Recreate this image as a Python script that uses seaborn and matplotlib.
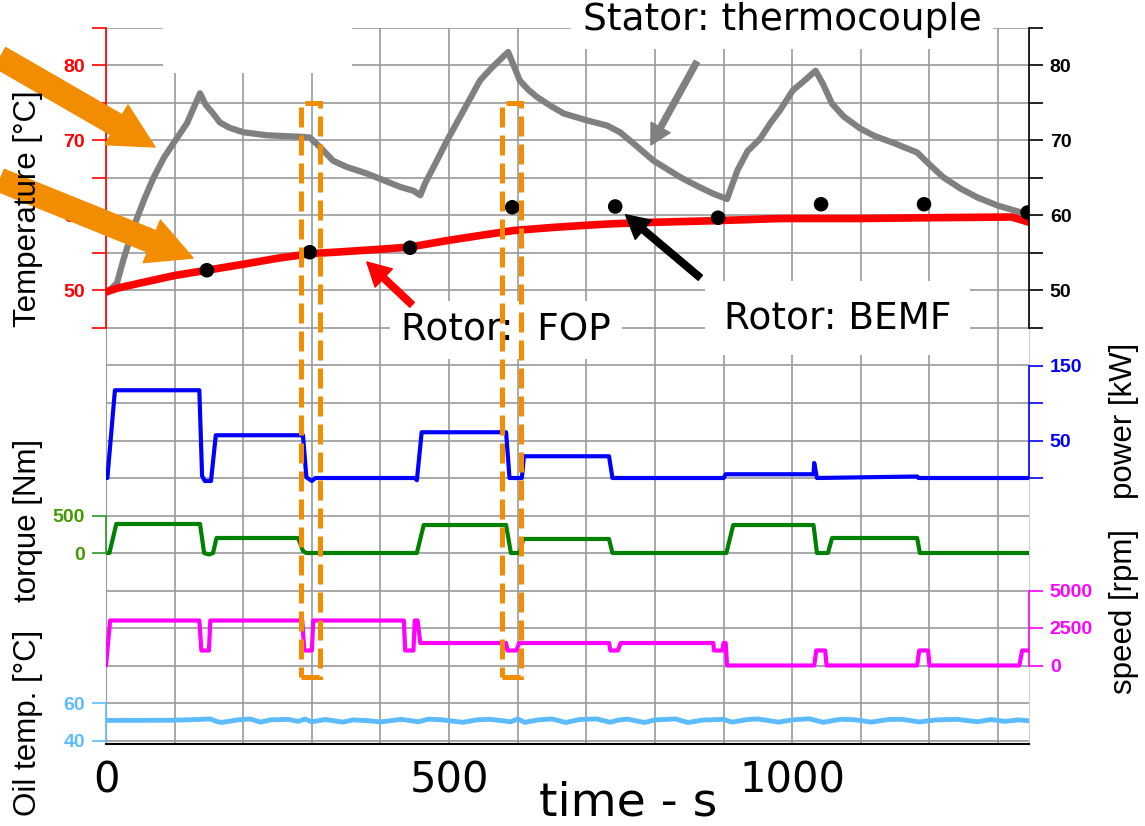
import matplotlib
matplotlib.use("Agg")
import matplotlib.pyplot as plt
import seaborn as sns
from matplotlib.patches import Rectangle, FancyArrowPatch
from matplotlib.ticker import MultipleLocator

# ---- data (time in s) ----
t_stator = [5, 16, 25, 40, 55, 69, 85, 98, 118, 137, 145, 156, 166, 180, 200, 234, 283, 297, 312,
            331, 350, 380, 429, 448, 458, 465, 477, 497, 521, 545, 560, 570, 586, 603, 615, 628,
            650, 667, 700, 730, 749, 770, 798, 837, 860, 885, 905, 920, 935, 953, 968, 982, 1001,
            1018, 1034, 1045, 1058, 1075, 1099, 1120, 1147, 1182, 1200, 1220, 1245, 1270, 1300, 1342]
T_stator = [50.0, 51.0, 54.0, 58.4, 62.0, 65.0, 67.8, 69.6, 72.3, 76.3, 74.8, 73.6, 72.4, 71.7,
            71.1, 70.7, 70.5, 70.4, 69.1, 67.3, 66.5, 65.6, 63.8, 63.3, 62.7, 64.3, 66.4, 70.0,
            74.0, 78.0, 79.5, 80.4, 81.8, 78.0, 76.8, 75.8, 74.5, 73.6, 72.7, 72.0, 71.1, 69.5,
            67.3, 65.1, 64.0, 62.9, 62.2, 66.0, 68.6, 70.2, 72.3, 74.0, 76.7, 78.0, 79.3, 77.5,
            74.9, 73.2, 71.6, 70.6, 69.7, 68.4, 66.8, 65.1, 63.6, 62.4, 61.3, 60.2]

t_fop = [0, 16, 60, 100, 147, 200, 250, 297, 350, 400, 443, 500, 550, 594, 650, 700, 739, 800,
         885, 983, 1050, 1100, 1197, 1320, 1345]
T_fop = [49.8, 50.3, 51.2, 52.0, 52.7, 53.5, 54.3, 54.9, 55.2, 55.5, 55.8, 56.7, 57.4, 58.0, 58.4,
         58.7, 58.9, 59.1, 59.3, 59.6, 59.6, 59.6, 59.7, 59.8, 59.1]

t_bemf = [147, 297, 443, 592, 742, 892, 1042, 1192, 1343]
T_bemf = [52.7, 55.1, 55.7, 61.1, 61.2, 59.7, 61.5, 61.5, 60.4]

t_power = [0, 2, 13, 136, 140, 144, 153, 160, 287, 292, 300, 305, 450, 453, 460, 583, 588, 606,
           609, 733, 738, 900, 903, 1031, 1032, 1036, 1182, 1184, 1345]
power = [0, 0, 117, 117, 3, -4, -4, 57, 57, 1, -4, 0, 0, -3, 61, 61, 0, 0, 29, 29, 0, 0, 5, 5,
         20, 0, 2, 0, 0]

t_torque = [0, 5, 15, 137, 143, 150, 156, 161, 280, 287, 292, 453, 463, 583, 590, 603, 608, 733,
            738, 904, 914, 1031, 1036, 1052, 1058, 1182, 1186, 1345]
torque = [0, 0, 387, 387, 0, -20, 0, 200, 200, 27, 0, 0, 373, 373, 0, 0, 187, 187, 0, 0, 373, 373,
          0, 0, 200, 200, 0, 0]

t_speed = [0, 6, 136, 139, 150, 152, 286, 289, 300, 302, 434, 436, 448, 450, 454, 458, 583, 585,
           598, 602, 733, 735, 746, 750, 885, 886, 898, 900, 903, 905, 1032, 1035, 1048, 1050,
           1182, 1185, 1198, 1200, 1331, 1335, 1345]
speed = [0, 3000, 3000, 1000, 1000, 3000, 3000, 1000, 1000, 3000, 3000, 1000, 1000, 3000, 3000,
         1500, 1500, 1000, 1000, 1500, 1500, 1000, 1000, 1500, 1500, 1000, 1000, 1500, 1500, 0,
         0, 1000, 1000, 0, 0, 1000, 1000, 0, 0, 1000, 1000]

t_oil = [0, 100, 140, 152, 160, 168, 190, 210, 225, 240, 265, 280, 290, 300, 320, 345, 360, 380,
         400, 430, 455, 470, 490, 520, 540, 560, 590, 600, 610, 630, 650, 670, 690, 715, 735, 745,
         760, 785, 800, 830, 848, 870, 900, 912, 935, 950, 980, 1000, 1025, 1045, 1070, 1090,
         1115, 1140, 1160, 1185, 1210, 1240, 1270, 1290, 1310, 1330, 1345]
oil = [50.7, 50.8, 51.3, 51.5, 50.3, 49.6, 50.9, 51.5, 49.8, 51.0, 51.3, 50.2, 51.4, 50.0, 51.2,
       49.8, 51.0, 50.6, 49.9, 51.3, 50.0, 51.4, 51.0, 49.7, 51.0, 51.3, 50.0, 51.5, 49.7, 51.0,
       51.5, 49.6, 51.2, 51.5, 49.7, 50.8, 51.4, 49.6, 51.0, 51.5, 49.6, 50.9, 51.3, 49.8, 51.2,
       51.5, 49.8, 51.0, 51.6, 49.7, 51.3, 51.1, 49.8, 51.2, 51.3, 49.9, 51.0, 51.3, 50.0, 51.2,
       50.2, 51.0, 50.5]

x_ticks = list(range(0, 1301, 100))
x_labels = ["0" if v == 0 else ("500" if v == 500 else ("1000" if v == 1000 else "")) for v in x_ticks]

ORANGE = "#f28c00"

sns.set_style("white")
plt.rcParams["font.family"] = ["DejaVu Sans"]
plt.rcParams["text.color"] = "black"
plt.rcParams["xtick.color"] = "black"
plt.rcParams["ytick.color"] = "black"

W, H = 1145, 826
fig = plt.figure(figsize=(W / 100, H / 100), dpi=100)
L, R, TOP, BOT = 106, 1029, 28, 744
ax = fig.add_axes([L / W, 1 - BOT / H, (R - L) / W, (BOT - TOP) / H])


def lims(v0, p0, v1, p1):
    # value v0 sits at pixel row p0, v1 at p1 -> limits for the full axes height
    s = (v1 - v0) / (p0 - p1)
    return v0 - (BOT - p0) * s, v0 + (p0 - TOP) * s


def side_axis(side, ylim, ticks, labels, color, lab_color=None):
    a = ax.twinx()
    a.patch.set_visible(False)
    for s in a.spines.values():
        s.set_visible(False)
    sp = a.spines[side]
    sp.set_visible(True)
    sp.set_color(color)
    sp.set_linewidth(1.2)
    sp.set_bounds(ticks[0], ticks[-1])
    if side == "left":
        a.yaxis.tick_left()
    else:
        a.yaxis.tick_right()
    a.set_ylim(ylim)
    a.set_yticks(ticks)
    a.set_yticklabels(labels)
    a.tick_params(axis="y", color=color, labelcolor=lab_color or color, length=10,
                  width=1.2, pad=5, labelsize=14)
    for lab in a.get_yticklabels():
        lab.set_fontweight("bold")
        lab.set_family("Liberation Sans")
    return a


# base axes: grid, x axis and temperature traces
temp_lim = lims(50, 290.5, 80, 65.5)
ax.set_ylim(temp_lim)
ax.set_xlim(0, 1345)
ax.yaxis.set_major_locator(MultipleLocator(5))
ax.tick_params(axis="y", length=0, labelleft=False)
ax.set_xticks(x_ticks)
ax.set_xticklabels(x_labels)
ax.tick_params(axis="x", direction="out", length=10, width=1.3, color="black",
               labelcolor="black", labelsize=30, pad=1)
ax.grid(True, color="#9a9a9a", lw=1.2)
ax.set_axisbelow(True)
ax.spines["top"].set_visible(False)
ax.spines["left"].set_color("#9a9a9a")
ax.spines["right"].set_color("#d0d0d0")
ax.spines["bottom"].set_color("black")
ax.spines["bottom"].set_linewidth(1.5)

sns.lineplot(x=t_stator, y=T_stator, ax=ax, color="#808080", lw=4.5, estimator=None,
             sort=False, zorder=3)
sns.lineplot(x=t_fop, y=T_fop, ax=ax, color="#ff0000", lw=5.5, estimator=None,
             sort=False, zorder=3)
sns.scatterplot(x=t_bemf, y=T_bemf, ax=ax, color="black", s=110, edgecolor="none", zorder=4)

# white label boxes covering the grid
box = dict(boxstyle="square,pad=0.3", fc="white", ec="none")
ax.text(985, 86.1, "Stator: thermocouple", fontsize=27, ha="center", va="center",
        color="black", bbox=box, zorder=2, clip_on=False)
ax.text(583, 44.7, "Rotor:  FOP", fontsize=27, ha="center", va="center", color="black",
        bbox=box, zorder=2)
ax.text(1066, 46.3, "Rotor: BEMF", fontsize=27, ha="center", va="center", color="black",
        bbox=dict(boxstyle="square,pad=0.5", fc="white", ec="none"), zorder=2)
ax.add_patch(Rectangle((83, 79), 276, 10, fc="white", ec="none", zorder=2, clip_on=False))

ax.annotate("", xy=(794, 69.4), xytext=(861, 80.5),
            arrowprops=dict(arrowstyle="simple,head_length=1.2,head_width=1.3,tail_width=0.35",
                            mutation_scale=12, color="#808080", shrinkA=0, shrinkB=0), zorder=5)
ax.annotate("", xy=(380, 53.8), xytext=(446, 48.1),
            arrowprops=dict(arrowstyle="simple,head_length=1.4,head_width=1.5,tail_width=0.4",
                            mutation_scale=12, color="#ff0000", shrinkA=0, shrinkB=0), zorder=5)
ax.annotate("", xy=(757, 60.1), xytext=(866, 51.7),
            arrowprops=dict(arrowstyle="simple,head_length=1.4,head_width=1.5,tail_width=0.4",
                            mutation_scale=12, color="black", shrinkA=0, shrinkB=0), zorder=5)

# individual y axes
side_axis("left", temp_lim, [45, 50, 55, 60, 65, 70, 75, 80, 85],
          ["", "50", "", "60", "", "70", "", "80", ""], "#ff0000")
side_axis("right", temp_lim, [45, 50, 55, 60, 65, 70, 75, 80, 85],
          ["", "50", "", "60", "", "70", "", "80", ""], "black")

ax_p = side_axis("right", lims(0, 478, 150, 365.5), [0, 50, 100, 150], ["", "50", "", "150"], "#0000ff")
sns.lineplot(x=t_power, y=power, ax=ax_p, color="#0000ff", lw=3, estimator=None, sort=False)

ax_t = side_axis("left", lims(0, 553, 500, 515.5), [0, 500], ["0", "500"], "#2a9a2a", "#3f9a00")
sns.lineplot(x=t_torque, y=torque, ax=ax_t, color="#008000", lw=3, estimator=None, sort=False)

ax_s = side_axis("right", lims(0, 665.5, 5000, 590.5), [0, 2500, 5000], ["0", "2500", "5000"], "#ff00ff")
sns.lineplot(x=t_speed, y=speed, ax=ax_s, color="#ff00ff", lw=3, estimator=None, sort=False)

ax_o = side_axis("left", lims(40, 740.5, 60, 703), [40, 60], ["40", "60"], "#5cbcff")
sns.lineplot(x=t_oil, y=oil, ax=ax_o, color="#5cbcff", lw=3.5, estimator=None, sort=False)

for a in (ax_p, ax_t, ax_s, ax_o):
    a.set_xlim(0, 1345)

# axis titles
lab_kw = dict(rotation=90, ha="center", va="center", fontsize=22.5, family="Liberation Sans",
              color="black")
fig.text(28 / W, 1 - 209 / H, "Temperature [°C]", **lab_kw)
fig.text(28 / W, 1 - 520 / H, "torque [Nm]", **lab_kw)
fig.text(28 / W, 1 - 723 / H, "Oil temp. [°C]", **lab_kw)
fig.text(1124 / W, 1 - 421 / H, "power [kW]", **lab_kw)
fig.text(1124 / W, 1 - 612 / H, "speed [rpm]", **lab_kw)
fig.text(628 / W, 1 - 803 / H, "time - s", ha="center", va="center", fontsize=34, color="black")

# orange highlight arrows and dashed windows (drawn above all axes)
for tail, tip in [((-154.5, 81.07), (71.4, 69.13)), ((-154.5, 64.73), (126.8, 54.33))]:
    fig.add_artist(FancyArrowPatch(tail, tip, transform=ax.transData, color=ORANGE,
                                   arrowstyle="simple,head_length=3.2,head_width=3.3,tail_width=1.65",
                                   mutation_scale=10, shrinkA=0, shrinkB=0))
for x0 in (284, 577):
    fig.add_artist(Rectangle((x0, -1.5), 28, 76.5, transform=ax.transData, fill=False,
                             ec=ORANGE, lw=3.6, ls=(0, (4, 1.6))))

fig.savefig("out.png", dpi=100)
